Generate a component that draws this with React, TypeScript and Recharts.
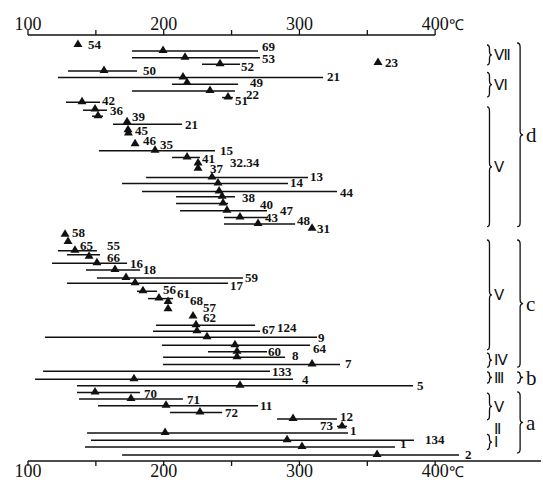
import {
  ScatterChart,
  Scatter,
  XAxis,
  YAxis,
  ReferenceLine,
} from "recharts";

// temperature ranges per sample row: [row, from °C, to °C]
const RANGES: [number, number, number][] = [
  [2.4, 176.6, 269.5], [3.4, 176.6, 271], [4.4, 228.2, 256.2], [5.4, 129.5, 180.3],
  [6.4, 122.1, 317.4], [7.4, 206.1, 254.8], [8.4, 176.6, 252.5], [9.4, 243, 251],
  [10.1, 128, 153.1], [11.3, 140.5, 158.2], [12.2, 147.2, 155.3], [13.4, 162.6, 213.5],
  [17.4, 152.3, 237.8], [18.4, 206.1, 226.7], [21.4, 187, 306.3], [22.3, 169.3, 291.6],
  [23.5, 184, 327.7], [24.3, 209.1, 252.5], [25.3, 209.1, 247.4], [26.4, 212, 276.1],
  [27.4, 244.4, 276.9], [28.4, 244.4, 296.8],
  [32.4, 122.1, 150.8], [33.0, 128.7, 153.1], [34.3, 117.7, 173], [35.3, 142.7, 182.5],
  [36.5, 150.8, 258.4], [37.3, 128.7, 247.4], [38.5, 180.3, 195.1], [39.6, 188.4, 206.9],
  [43.6, 194.3, 267.3], [44.5, 192.1, 271], [45.4, 112.5, 313], [46.6, 198.7, 307.8],
  [47.6, 232.6, 276.1], [48.4, 199.5, 289.4], [49.5, 199.5, 329.9], [50.5, 111.1, 278.3],
  [51.7, 105.2, 295.3], [52.7, 136.1, 383.7], [53.7, 136.1, 182.5], [54.7, 137.6, 214.2],
  [55.7, 151.6, 269.5], [56.7, 204.6, 243], [57.7, 283.5, 327.7], [58.8, 327.7, 335.1],
  [59.8, 143.5, 335.8], [60.9, 146.4, 384.4], [61.9, 142, 370.4], [63.1, 169.3, 417.6],
];

// triangles: [row, °C]
const MARKS: [number, number][] = [
  [1.5, 136.8], [2.4, 199.5], [3.4, 215.7], [4.4, 241.5], [4.2, 357.9], [5.4, 156],
  [6.4, 214.2], [7.2, 217.2], [8.4, 234.1], [9.4, 247.4], [10.1, 139.8], [11.2, 149.4],
  [12.2, 151.6], [13.1, 173], [14.3, 173.7], [14.8, 174], [16.4, 178.9], [17.4, 193.6],
  [18.4, 217.2], [19.3, 225.3], [20.1, 225.3], [21.4, 235.6], [22.3, 240], [23.5, 240.8],
  [24.3, 243], [25.3, 243.7], [26.4, 246.6], [27.4, 256.2], [28.4, 269.5], [29.1, 309.3],
  [30.0, 127.3], [31.1, 129.5], [32.4, 134.6], [33.3, 145], [34.3, 150.8], [35.3, 164.1],
  [36.5, 172.2], [37.3, 178.9], [38.5, 184.7], [39.6, 196.5], [40.1, 203.2], [41.2, 203.2],
  [42.3, 221.6], [43.6, 223.8], [44.5, 224.5], [45.4, 231.9], [46.6, 252.5], [47.6, 254],
  [48.4, 254], [49.5, 309.3], [51.7, 178.1], [52.7, 256.2], [53.7, 149.4], [54.7, 175.9],
  [55.7, 201.7], [56.7, 226.7], [57.7, 295.3], [58.8, 331.4], [59.8, 201], [60.9, 290.9],
  [61.9, 301.9], [63.1, 357.2],
];

// sample numbers: [text, °C, row]
const TAGS: [string, number, number][] = [
  ["54", 144.2, 1.5], ["69", 272.4, 1.8], ["53", 272.4, 3.5], ["52", 257, 4.7],
  ["50", 184.7, 5.3], ["21", 320.3, 6.3], ["49", 263.6, 7.2], ["22", 260.7, 9.0],
  ["51", 252.5, 9.8], ["23", 363, 4.2], ["42", 154.5, 9.8], ["36", 160.4, 11.4],
  ["39", 176.6, 12.2], ["21", 215.7, 13.4], ["45", 178.9, 14.4], ["46", 184.7, 15.8],
  ["35", 197.3, 16.5], ["15", 241.5, 17.4], ["41", 228.2, 18.5], ["37", 234.1, 20.0],
  ["32.34", 248.9, 19.2], ["13", 307.8, 21.2], ["14", 293.1, 22.1], ["44", 329.9, 23.6],
  ["38", 257.7, 24.5], ["40", 271, 25.5], ["47", 285.7, 26.4], ["43", 274.7, 27.5],
  ["48", 298.2, 27.9], ["31", 313, 29.1], ["58", 132.4, 29.7], ["65", 138.3, 31.6],
  ["55", 158.2, 31.7], ["66", 158.2, 33.5], ["16", 175.2, 34.3], ["18", 184.7, 35.2],
  ["59", 259.9, 36.4], ["17", 248.9, 37.7], ["56", 199.5, 38.3], ["61", 209.8, 38.9],
  ["68", 219.4, 39.9], ["57", 229, 40.9], ["62", 229, 42.5], ["67", 272.4, 44.3],
  ["124", 283.5, 43.9], ["9", 313.7, 45.4], ["64", 310, 47.1], ["60", 276.9, 47.6],
  ["8", 294.5, 48.1], ["7", 333.6, 49.4], ["133", 279.8, 50.5], ["4", 301.9, 51.7],
  ["5", 386.7, 52.7], ["70", 185.5, 53.8], ["71", 217.2, 54.7], ["11", 271, 55.7],
  ["72", 245.2, 56.8], ["12", 329.9, 57.4], ["73", 315.2, 58.7], ["1", 337.3, 59.5],
  ["134", 392.6, 60.8], ["1", 374.1, 61.4], ["2", 422, 63.1],
];

// brace groups: [label, first row, last row]
const TYPES: [string, number, number][] = [
  ["Ⅶ", 1.5, 4.5], ["Ⅵ", 5.6, 9.3], ["Ⅴ", 10.8, 28.8], ["Ⅴ", 30.8, 47.3],
  ["Ⅳ", 47.8, 49.9], ["Ⅲ", 50.6, 52.3], ["Ⅴ", 53.8, 57.8], ["Ⅰ", 60.0, 62.3],
];
const EXTRA_TYPES: [string, number][] = [["Ⅱ", 59.2]];
const CLASSES: [string, number, number][] = [
  ["d", 1.2, 28.8], ["c", 30.8, 49.9], ["b", 50.6, 52.3], ["a", 53.6, 62.8],
];

const AXIS_TICKS = [100, 150, 200, 250, 300, 350, 400];

const INK = "#111";
const SERIF = "Liberation Serif, Times New Roman, serif";
const TYPE_X = 438.2;
const CLASS_X = 460.4;

const markData = MARKS.map(([row, t]) => ({ row, t }));
const tagData = TAGS.map(([text, t, row]) => ({ text, t, row }));
const typeTags = [
  ...TYPES.map(([text, a, b]) => ({ text, t: TYPE_X + 5.5, row: (a + b) / 2 })),
  ...EXTRA_TYPES.map(([text, row]) => ({ text, t: TYPE_X + 5.5, row })),
];
const classTags = CLASSES.map(([text, a, b]) => ({ text, t: CLASS_X + 6.5, row: (a + b) / 2 }));

function Tri(p: any) {
  const { cx, cy } = p;
  const y = cy - 1;
  return <path d={`M${cx},${y - 4.5} L${cx + 4.5},${y + 3} L${cx - 4.5},${y + 3} Z`} fill={INK} />;
}

function Tag(size: number, weight: number) {
  return (p: any) => (
    <text
      x={p.cx}
      y={p.cy}
      dy="0.34em"
      fontSize={size}
      fontWeight={weight}
      fontFamily={SERIF}
      fill={INK}
    >
      {p.payload.text}
    </text>
  );
}

function Brace(w: number) {
  return (p: any) => {
    const x = p.x1;
    const top = Math.min(p.y1, p.y2);
    const bot = Math.max(p.y1, p.y2);
    const mid = (top + bot) / 2;
    const h = w / 2;
    const r = Math.min(4, (bot - top) / 4);
    const d =
      `M${x},${top} Q${x + h},${top} ${x + h},${top + r} L${x + h},${mid - r} ` +
      `Q${x + h},${mid} ${x + w},${mid} Q${x + h},${mid} ${x + h},${mid + r} ` +
      `L${x + h},${bot - r} Q${x + h},${bot} ${x},${bot}`;
    return <path d={d} fill="none" stroke={INK} strokeWidth={1.3} />;
  };
}

function AxisTick(top: boolean) {
  return (p: any) => {
    const v = p.payload.value;
    if (v % 100 !== 0) return <g />;
    const y = top ? p.y : p.y + 11;
    return (
      <g>
        <text x={p.x} y={y} textAnchor="middle" fontSize={18} fontFamily={SERIF} fill={INK}>
          {v}
        </text>
        {v === 400 && (
          <text x={p.x + 14} y={y} fontSize={15} fontFamily={SERIF} fill={INK}>
            ℃
          </text>
        )}
      </g>
    );
  };
}

export default function App() {
  return (
    <div style={{ position: "absolute", left: 0, top: 0, background: "#fff" }}>
      <ScatterChart width={543} height={487} margin={{ top: 5, right: 2, bottom: 0, left: 28 }}>
        <XAxis
          xAxisId="top"
          orientation="top"
          type="number"
          dataKey="t"
          domain={[100, 478]}
          ticks={AXIS_TICKS}
          axisLine={false}
          tickLine={{ stroke: INK, strokeWidth: 1.3 }}
          tickSize={5}
          tickMargin={0}
          height={30}
          tick={AxisTick(true)}
          allowDataOverflow
        />
        <XAxis
          xAxisId="b"
          type="number"
          dataKey="t"
          domain={[100, 478]}
          ticks={AXIS_TICKS}
          axisLine={{ stroke: INK, strokeWidth: 1.4 }}
          tickLine={{ stroke: INK, strokeWidth: 1.3 }}
          tickSize={5}
          tickMargin={0}
          height={26}
          tick={AxisTick(false)}
          allowDataOverflow
        />
        <YAxis type="number" dataKey="row" domain={[0, 64]} reversed hide allowDataOverflow />

        <ReferenceLine
          xAxisId="b"
          segment={[{ x: 100, y: 0 }, { x: 400, y: 0 }]}
          stroke={INK}
          strokeWidth={1.4}
        />

        {RANGES.map(([row, lo, hi], i) => (
          <ReferenceLine
            key={`r${i}`}
            xAxisId="b"
            segment={[{ x: lo, y: row }, { x: hi, y: row }]}
            stroke={INK}
            strokeWidth={1.5}
          />
        ))}

        {TYPES.map(([name, a, b], i) => (
          <ReferenceLine
            key={`t${i}`}
            xAxisId="b"
            segment={[{ x: TYPE_X, y: a }, { x: TYPE_X, y: b }]}
            shape={Brace(5)}
          />
        ))}
        {CLASSES.map(([name, a, b], i) => (
          <ReferenceLine
            key={`c${i}`}
            xAxisId="b"
            segment={[{ x: CLASS_X, y: a }, { x: CLASS_X, y: b }]}
            shape={Brace(6)}
          />
        ))}

        <Scatter xAxisId="b" data={markData} shape={Tri} isAnimationActive={false} />
        <Scatter xAxisId="b" data={tagData} shape={Tag(13, 700)} isAnimationActive={false} />
        <Scatter xAxisId="b" data={typeTags} shape={Tag(15, 400)} isAnimationActive={false} />
        <Scatter xAxisId="b" data={classTags} shape={Tag(21, 400)} isAnimationActive={false} />
      </ScatterChart>
    </div>
  );
}
